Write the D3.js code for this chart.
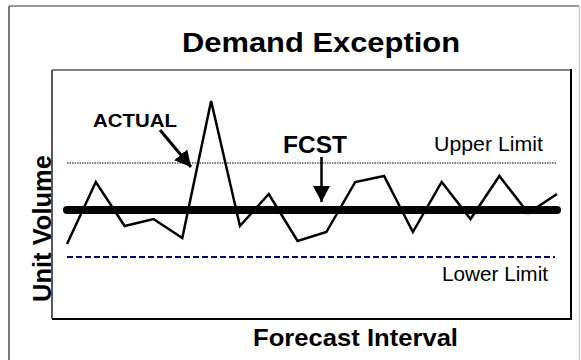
<!DOCTYPE html>
<html>
<head>
<meta charset="utf-8">
<script src="https://cdn.jsdelivr.net/npm/d3@7"></script>
<style>
  body { margin: 0; background: #fff; }
  svg text { font-family: "Liberation Sans", Arial, sans-serif; }
</style>
</head>
<body>
<div id="chart"></div>
<script>
// demand per forecast interval (unit volume, arbitrary units)
var intervals = d3.range(1, 19);
var actual = [75, 137, 93, 100, 81, 218, 93, 125, 78, 87, 137, 143, 87, 137, 100, 143, 106, 125];
var forecast = 109;
var upperLimit = 156;
var lowerLimit = 62;

var width = 581, height = 360;
var plot = { left: 52, top: 70, right: 571, bottom: 319 };

var svg = d3.select("#chart")
    .append("svg")
    .attr("width", width)
    .attr("height", height);

svg.append("rect")
    .attr("width", width)
    .attr("height", height)
    .attr("fill", "#fff");

// outer frame (shadowed look)
svg.append("line").attr("x1", 9).attr("y1", 6).attr("x2", 9).attr("y2", height)
    .attr("stroke", "#222").attr("stroke-width", 1.2);
svg.append("line").attr("x1", 9).attr("y1", 6).attr("x2", 579).attr("y2", 6)
    .attr("stroke", "#777").attr("stroke-width", 1.5);
svg.append("line").attr("x1", 579.5).attr("y1", 6).attr("x2", 579.5).attr("y2", height)
    .attr("stroke", "#ccc").attr("stroke-width", 1.5);

var x = d3.scalePoint()
    .domain(intervals)
    .range([67, 557]);

var y = d3.scaleLinear()
    .domain([0, 249])
    .range([plot.bottom, plot.top]);

// plot frame
svg.append("line").attr("x1", plot.left).attr("y1", plot.top).attr("x2", plot.right).attr("y2", plot.top)
    .attr("stroke", "#808080").attr("stroke-width", 2);
svg.append("line").attr("x1", plot.left).attr("y1", plot.top).attr("x2", plot.left).attr("y2", plot.bottom)
    .attr("stroke", "#222").attr("stroke-width", 1.5);
svg.append("line").attr("x1", plot.right).attr("y1", plot.top - 1).attr("x2", plot.right).attr("y2", plot.bottom + 1)
    .attr("stroke", "#000").attr("stroke-width", 2);
svg.append("line").attr("x1", plot.left).attr("y1", plot.bottom).attr("x2", plot.right + 1).attr("y2", plot.bottom)
    .attr("stroke", "#000").attr("stroke-width", 2);

var x0 = x(intervals[0]), x1 = x(intervals[intervals.length - 1]);

// upper limit (dotted)
svg.append("line")
    .attr("x1", x0).attr("x2", x1)
    .attr("y1", y(upperLimit)).attr("y2", y(upperLimit))
    .attr("stroke", "#000")
    .attr("stroke-width", 1)
    .attr("stroke-dasharray", "1.5,1");

// lower limit (dashed navy)
svg.append("line")
    .attr("x1", x0).attr("x2", x1 - 2)
    .attr("y1", y(lowerLimit)).attr("y2", y(lowerLimit))
    .attr("stroke", "#000080")
    .attr("stroke-width", 2)
    .attr("stroke-dasharray", "6,3");

// forecast (thick)
svg.append("line")
    .attr("x1", x0).attr("x2", x1)
    .attr("y1", y(forecast)).attr("y2", y(forecast))
    .attr("stroke", "#000")
    .attr("stroke-width", 8)
    .attr("stroke-linecap", "round");

// actual demand
var line = d3.line()
    .x(function (d, i) { return x(intervals[i]); })
    .y(function (d) { return y(d); });

svg.append("path")
    .datum(actual)
    .attr("d", line)
    .attr("fill", "none")
    .attr("stroke", "#000")
    .attr("stroke-width", 2.5)
    .attr("stroke-linejoin", "miter");

// arrow heads
svg.append("defs").append("marker")
    .attr("id", "head")
    .attr("markerUnits", "userSpaceOnUse")
    .attr("viewBox", "0 0 16 17")
    .attr("refX", 16).attr("refY", 8.5)
    .attr("markerWidth", 16).attr("markerHeight", 17)
    .attr("orient", "auto")
    .append("path")
    .attr("d", "M0,0 L16,8.5 L0,17 Z")
    .attr("fill", "#000");

// ACTUAL label + arrow to the spike's rising edge
svg.append("text")
    .attr("x", 93).attr("y", 127)
    .attr("font-size", 18).attr("font-weight", "bold")
    .attr("textLength", 84).attr("lengthAdjust", "spacingAndGlyphs")
    .text("ACTUAL");
svg.append("line")
    .attr("x1", 160).attr("y1", 130)
    .attr("x2", 191).attr("y2", 167)
    .attr("stroke", "#000").attr("stroke-width", 3)
    .attr("marker-end", "url(#head)");

// FCST label + arrow
svg.append("text")
    .attr("x", 283).attr("y", 153)
    .attr("font-size", 23).attr("font-weight", "bold")
    .attr("textLength", 64).attr("lengthAdjust", "spacingAndGlyphs")
    .text("FCST");
svg.append("line")
    .attr("x1", 321.5).attr("y1", 157)
    .attr("x2", 321.5).attr("y2", 202)
    .attr("stroke", "#000").attr("stroke-width", 2.5)
    .attr("marker-end", "url(#head)");

svg.append("text")
    .attr("x", 434).attr("y", 151)
    .attr("font-size", 21)
    .attr("textLength", 109).attr("lengthAdjust", "spacingAndGlyphs")
    .text("Upper Limit");

svg.append("text")
    .attr("x", 442).attr("y", 281)
    .attr("font-size", 21)
    .attr("textLength", 106).attr("lengthAdjust", "spacingAndGlyphs")
    .text("Lower Limit");

// titles
svg.append("text")
    .attr("x", 182).attr("y", 52)
    .attr("font-size", 27).attr("font-weight", "bold")
    .attr("textLength", 278).attr("lengthAdjust", "spacingAndGlyphs")
    .text("Demand Exception");

svg.append("text")
    .attr("x", 253).attr("y", 346)
    .attr("font-size", 24).attr("font-weight", "bold")
    .attr("textLength", 205).attr("lengthAdjust", "spacingAndGlyphs")
    .text("Forecast Interval");

svg.append("text")
    .attr("transform", "translate(51,302) rotate(-90)")
    .attr("font-size", 25).attr("font-weight", "bold")
    .attr("textLength", 147).attr("lengthAdjust", "spacingAndGlyphs")
    .text("Unit Volume");
</script>
</body>
</html>
